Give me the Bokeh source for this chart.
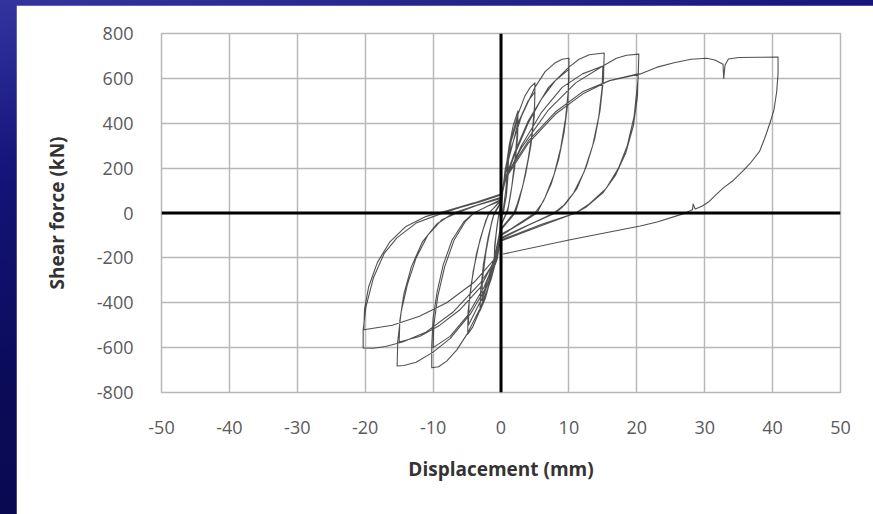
from bokeh.plotting import figure
from bokeh.models import Range1d, FixedTicker, Span
from bokeh.layouts import column
from bokeh.embed import file_html
from bokeh.resources import INLINE

# ---- data: displacement (mm) / shear force (kN), in loading order ----
c1_x = [0, 0.3, 0.6, 1.0, 0.95, 0.7, 0.4, 0.2, 0, -0.3, -0.6, -1.0, -0.95, -0.7, -0.4, -0.2, 0]
c1_y = [0, 110, 190, 250, 190, 100, 30, 0, -30, -120, -180, -230, -170, -90, -20, 0, 30]

c2_x = [0.4, 0.8, 1.1, 1.05, 0.8, 0.4, 0.2, 0, -0.4, -0.8, -1.0, -0.95, -0.6, -0.3, 0]
c2_y = [140, 210, 240, 170, 80, 10, -10, -40, -130, -200, -220, -150, -60, 0, 40]

c3_x = [0.5, 1.2, 1.8, 2.5, 2.45, 2.1, 1.6, 1.1, 0.8, 0,
        -0.6, -1.4, -2.3, -3.1, -3.0, -2.6, -1.9, -1.2, -0.9, 0]
c3_y = [150, 300, 390, 455, 380, 250, 120, 30, 0, -50,
        -150, -280, -380, -437, -350, -230, -110, -20, 0, 45]

c4_x = [0.6, 1.5, 2.5, 2.45, 2.0, 1.4, 1.0, 0,
        -0.7, -1.8, -2.8, -2.75, -2.2, -1.5, -1.0, 0]
c4_y = [160, 320, 420, 340, 200, 80, 10, -55,
        -160, -300, -390, -300, -170, -60, 0, 50]

c5_x = [0.6, 1.5, 2.5, 3.5, 4.3, 5.0, 4.95, 4.6, 4.0, 3.2, 2.4, 1.9, 0,
        -0.8, -2.0, -3.2, -4.2, -4.9, -4.85, -4.4, -3.6, -2.6, -1.8, -0.8, 0]
c5_y = [170, 330, 440, 520, 560, 580, 480, 360, 240, 120, 40, 0, -70,
        -180, -340, -440, -510, -540, -440, -320, -180, -70, 0, 30, 55]

c6_x = [0.8, 2.5, 4.0, 5.0, 4.9, 4.4, 3.6, 2.7, 2.1, 0,
        -1.0, -2.8, -4.8, -4.7, -4.1, -3.1, -2.2, -1.7, 0]
c6_y = [200, 400, 500, 540, 430, 300, 170, 60, 0, -75,
        -200, -380, -500, -400, -260, -120, -30, 0, 60]

c7_x = [0.5, 1.5, 3.0, 5.0, 6.5, 8.0, 9.0, 10.0, 10.0, 9.8, 9.3, 8.5, 7.4, 6.2, 5.0, 3.0, 1.5, 0,
        -0.6, -1.5, -3.0, -5.0, -6.5, -8.0, -9.2, -10.2, -10.2, -10.0, -9.4, -8.5, -7.2, -5.5, -4.0, -2.0, 0]
c7_y = [150, 290, 430, 560, 630, 670, 685, 690, 600, 480, 360, 240, 130, 50, 0, -40, -70, -95,
        -200, -300, -420, -540, -610, -660, -685, -690, -590, -470, -350, -230, -120, -40, 0, 30, 55]

c8_x = [0.5, 2.0, 4.0, 6.0, 8.0, 10.0, 9.9, 9.5, 8.8, 7.8, 6.5, 5.3, 3.0, 0,
        -0.7, -2.5, -5.0, -7.5, -10.0, -9.9, -9.3, -8.3, -6.9, -5.3, -4.0, -2.0, 0]
c8_y = [130, 260, 400, 510, 590, 640, 540, 420, 290, 170, 70, 0, -45, -100,
        -200, -330, -460, -550, -600, -500, -370, -240, -120, -40, 0, 30, 60]

c9_x = [0.6, 2.0, 4.0, 7.0, 10.0, 11.5, 13.0, 15.2, 15.1, 14.6, 13.8, 12.6, 11.2, 9.5, 7.8, 5.0, 2.5, 0,
        -0.6, -2.0, -4.5, -7.5, -10.0, -12.5, -14.3, -15.3, -15.2, -14.7, -13.8, -12.5, -10.8, -8.7, -6.5,
        -3.5, 0]
c9_y = [150, 270, 410, 560, 650, 685, 705, 713, 600, 460, 330, 210, 110, 40, 0, -40, -75, -110,
        -210, -320, -450, -560, -620, -665, -680, -682, -570, -440, -320, -200, -100, -30, 0,
        35, 65]

c10_x = [0.6, 3.0, 6.0, 9.0, 12.0, 15.0, 14.9, 14.4, 13.5, 12.2, 10.7, 9.0, 8.0, 4.0, 0,
         -0.8, -3.0, -6.0, -9.0, -12.0, -15.0, -14.9, -14.3, -13.2, -11.6, -9.5, -7.0, -3.5, 0]
c10_y = [140, 300, 450, 560, 620, 655, 560, 430, 300, 180, 90, 25, 0, -55, -115,
         -200, -330, -430, -500, -550, -575, -480, -360, -240, -130, -50, 0, 35, 70]

c11_x = [0.6, 3.0, 7.0, 11.0, 15.0, 17.0, 18.5, 20.3, 20.2, 19.6, 18.6, 17.3, 15.5, 13.0, 11.0, 7.0, 3.0, 0,
         -0.8, -3.0, -7.0, -11.0, -14.5, -17.0, -18.8, -20.3, -20.3, -19.9, -18.8, -17.2, -15.3, -12.5, -9.0,
         -6.0, -3.0, 0]
c11_y = [150, 290, 460, 580, 655, 690, 703, 708, 600, 430, 300, 200, 110, 40, 0, -45, -90, -125,
         -210, -310, -440, -530, -575, -595, -603, -602, -520, -420, -290, -180, -110, -45, -5,
         25, 50, 80]

c12_x = [0.6, 4.0, 8.0, 12.0, 16.0, 20.2, 20.1, 19.5, 18.4, 16.9, 15.0, 12.5, 11.0, 6.0, 0,
         -0.8, -4.0, -8.0, -12.0, -16.0, -20.2, -20.1, -19.5, -18.2, -16.4, -14.0, -11.0, -8.0, -4.0, 0]
c12_y = [150, 310, 440, 530, 590, 620, 520, 390, 270, 170, 90, 25, 0, -50, -120,
         -200, -310, -400, -460, -500, -520, -430, -330, -220, -130, -60, -15, 10, 45, 85]

c13_x = [0.6, 4.0, 8.0, 12.0, 16.0, 20.5, 23.0, 25.5, 28.0, 30.3, 31.5, 32.7, 32.8, 33.0, 33.5, 35.0,
         38.0, 40.8, 40.8, 40.6, 40.2, 39.6, 38.8, 38.1, 36.8, 35.6, 34.2, 32.7, 31.6, 30.6, 29.6,
         28.6, 28.3, 28.2, 26.8, 23.0, 20.5, 10.0, 0.3]
c13_y = [160, 320, 450, 540, 590, 620, 650, 670, 685, 690, 682, 663, 600, 660, 686, 693,
         694, 695, 620, 540, 460, 400, 330, 276, 225, 187, 145, 111, 80, 50, 30,
         18, 40, 15, -4, -40, -58, -120, -183]

cycles = [(c1_x, c1_y), (c2_x, c2_y), (c3_x, c3_y), (c4_x, c4_y), (c5_x, c5_y), (c6_x, c6_y),
          (c7_x, c7_y), (c8_x, c8_y), (c9_x, c9_y), (c10_x, c10_y), (c11_x, c11_y),
          (c12_x, c12_y), (c13_x, c13_y)]

x_ticks = [-50, -40, -30, -20, -10, 0, 10, 20, 30, 40, 50]
y_ticks = [-800, -600, -400, -200, 0, 200, 400, 600, 800]
x_title = "Displacement (mm)"
y_title = "Shear force (kN)"

# ---- figure ----
p = figure(width=857, height=509, output_backend="svg", toolbar_location=None,
           x_range=Range1d(-50, 50), y_range=Range1d(-800, 800),
           margin=(5, 0, 0, 16))
p.min_border_left = 145
p.min_border_right = 33
p.min_border_top = 28
p.min_border_bottom = 122
p.background_fill_color = "white"
p.border_fill_color = "white"
p.outline_line_color = "#b8b8b8"
p.outline_line_width = 1.5

for ax, ticks in ((p.xaxis[0], x_ticks), (p.yaxis[0], y_ticks)):
    ax.ticker = FixedTicker(ticks=ticks)
    ax.major_label_overrides = {t: str(t) for t in ticks}
    ax.axis_line_color = None
    ax.major_tick_line_color = None
    ax.minor_tick_line_color = None
    ax.major_label_text_font = "Open Sans"
    ax.major_label_text_font_size = "18px"
    ax.major_label_text_color = "#5a5a5a"
    ax.axis_label_text_font = "Open Sans"
    ax.axis_label_text_font_style = "bold"
    ax.axis_label_text_font_size = "19px"
    ax.axis_label_text_color = "#333333"
    ax.major_label_standoff = 22

p.xaxis.axis_label = x_title
p.yaxis.axis_label = y_title
p.xaxis.axis_label_standoff = 19
p.yaxis.axis_label_standoff = 24

p.xgrid.ticker = FixedTicker(ticks=x_ticks)
p.ygrid.ticker = FixedTicker(ticks=y_ticks)
p.grid.grid_line_color = "#b8b8b8"
p.grid.grid_line_width = 1.5

all_x = [0]
all_y = [0]
for cx, cy in cycles:
    all_x += cx
    all_y += cy
p.line(all_x, all_y, line_color="#333333", line_width=1.1, line_alpha=0.85, line_join="round")

p.add_layout(Span(location=0, dimension="width", line_color="black", line_width=3))
p.add_layout(Span(location=0, dimension="height", line_color="black", line_width=3))

layout = column(p, width=873, height=514,
                styles={"background": "linear-gradient(170deg, #3434a0 0%, #14147a 25%, #0a0a58 60%, #070748 100%)"})

open("out.html", "w").write(file_html(layout, INLINE))
